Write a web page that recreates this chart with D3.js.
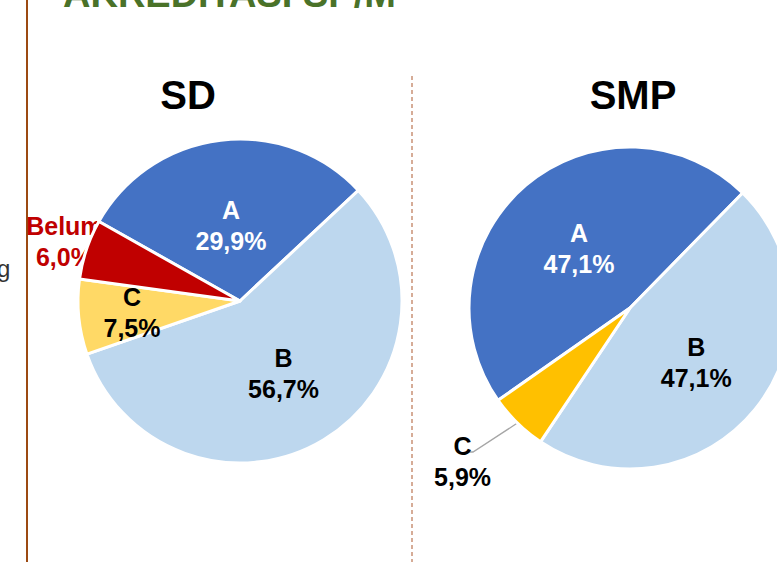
<!DOCTYPE html>
<html>
<head>
<meta charset="utf-8">
<script src="https://cdn.jsdelivr.net/npm/d3@7"></script>
<style>
  body { margin: 0; background: #ffffff; overflow: hidden; }
  svg { display: block; font-family: "Liberation Sans", Arial, sans-serif; }
</style>
</head>
<body>
<div class="chart"></div>
<script>
"use strict";

// Data
var sdLabels = ["A", "B", "C", "Belum"];
var sdValues = [29.9, 56.7, 7.5, 6.0];
var sdColors = ["#4472C4", "#BDD7EE", "#FFD966", "#C00000"];

var smpLabels = ["A", "B", "C"];
var smpValues = [47.1, 47.1, 5.9];
var smpColors = ["#4472C4", "#BDD7EE", "#FFC000"];

var pageTitle = "AKREDITASI SP/M";
var chartTitles = ["SD", "SMP"];

var width = 777;
var height = 562;

var svg = d3.select(".chart").append("svg")
    .attr("width", width)
    .attr("height", height);

// Slide decoration: cut-off heading, side rule, dashed divider
svg.append("text")
    .attr("x", 63)
    .attr("y", 7)
    .style("font-size", "38px")
    .style("font-weight", "bold")
    .style("fill", "#4A7229")
    .text(pageTitle);

svg.append("line")
    .attr("x1", 27).attr("x2", 27)
    .attr("y1", 0).attr("y2", height)
    .style("stroke", "#9C4A12")
    .style("stroke-width", 2);

svg.append("line")
    .attr("x1", 412).attr("x2", 412)
    .attr("y1", 76).attr("y2", height)
    .style("stroke", "#C08060")
    .style("stroke-width", 1.3)
    .style("stroke-dasharray", "4,3");

svg.append("text")
    .attr("x", -3)
    .attr("y", 277)
    .style("font-size", "24px")
    .style("fill", "#333333")
    .text("g");

function pct(v) {
    return v.toFixed(1).replace(".", ",") + "%";
}

// label options: distance from center as part of radius, colour, outside or not
function drawPie(opt) {
    var data = opt.labels.map(function (l, i) {
        return { label: l, value: opt.values[i], color: opt.colors[i] };
    });

    var pie = d3.pie()
        .sort(null)
        .value(function (d) { return d.value; })
        .startAngle(opt.start * Math.PI / 180)
        .endAngle(opt.start * Math.PI / 180 + 2 * Math.PI);

    var arcs = pie(data);
    var arc = d3.arc().innerRadius(0).outerRadius(opt.r);

    var g = svg.append("g")
        .attr("transform", "translate(" + opt.cx + "," + opt.cy + ")");

    // title
    svg.append("text")
        .attr("x", opt.titleX)
        .attr("y", 109)
        .attr("text-anchor", "middle")
        .style("font-size", "40px")
        .style("font-weight", "bold")
        .style("fill", "#000000")
        .text(opt.title);

    function labelPos(d) {
        var lo = opt.labelOpts[d.data.label];
        var a = (d.startAngle + d.endAngle) / 2;
        var rr = opt.r * lo.k;
        return [rr * Math.sin(a) + (lo.dx || 0), -rr * Math.cos(a) + (lo.dy || 0)];
    }

    function addLabel(sel) {
        sel.each(function (d) {
            var lo = opt.labelOpts[d.data.label];
            var p = labelPos(d);
            var t = d3.select(this)
                .attr("text-anchor", "middle")
                .style("font-size", "25px")
                .style("font-weight", "bold")
                .style("fill", lo.color);
            t.append("tspan").attr("x", p[0]).attr("y", p[1] - 6).text(d.data.label);
            t.append("tspan").attr("x", p[0]).attr("y", p[1] + 25).text(pct(d.data.value));
        });
    }

    var outside = arcs.filter(function (d) { return opt.labelOpts[d.data.label].outside; });
    var inside = arcs.filter(function (d) { return !opt.labelOpts[d.data.label].outside; });

    // leader lines for outside labels
    outside.forEach(function (d) {
        var lo = opt.labelOpts[d.data.label];
        if (!lo.leader) return;
        var a = (d.startAngle + d.endAngle) / 2;
        g.append("polyline")
            .attr("points", [
                [opt.r * Math.sin(a), -opt.r * Math.cos(a)],
                lo.leader,
                [lo.leader[0] - 6, lo.leader[1]]
            ].map(function (p) { return p.join(","); }).join(" "))
            .style("fill", "none")
            .style("stroke", "#A6A6A6")
            .style("stroke-width", 1.3);
    });

    // outside labels sit under the pie
    g.selectAll(".outlabel")
        .data(outside)
        .enter().append("text")
        .attr("class", "outlabel")
        .call(addLabel);

    g.selectAll(".slice")
        .data(arcs)
        .enter().append("path")
        .attr("class", "slice")
        .attr("d", arc)
        .style("fill", function (d) { return d.data.color; })
        .style("stroke", "#ffffff")
        .style("stroke-width", 3)
        .style("stroke-linejoin", "round");

    g.selectAll(".inlabel")
        .data(inside)
        .enter().append("text")
        .attr("class", "inlabel")
        .call(addLabel);
}

drawPie({
    title: chartTitles[0], titleX: 188,
    labels: sdLabels, values: sdValues, colors: sdColors,
    cx: 240, cy: 301, r: 162, start: -60.6,
    labelOpts: {
        "A": { k: 0.47, color: "#ffffff" },
        "B": { k: 0.52, color: "#000000" },
        "C": { k: 0.67, color: "#000000" },
        "Belum": { k: 1.17, color: "#C00000", outside: true, dx: 4 }
    }
});

drawPie({
    title: chartTitles[1], titleX: 633,
    labels: smpLabels, values: smpValues, colors: smpColors,
    cx: 630, cy: 308, r: 161, start: -125,
    labelOpts: {
        "A": { k: 0.49, color: "#ffffff" },
        "B": { k: 0.53, color: "#000000" },
        "C": { k: 1.3, color: "#000000", outside: true, dx: -21, dy: 3, leader: [-157, 144] }
    }
});
</script>
</body>
</html>
